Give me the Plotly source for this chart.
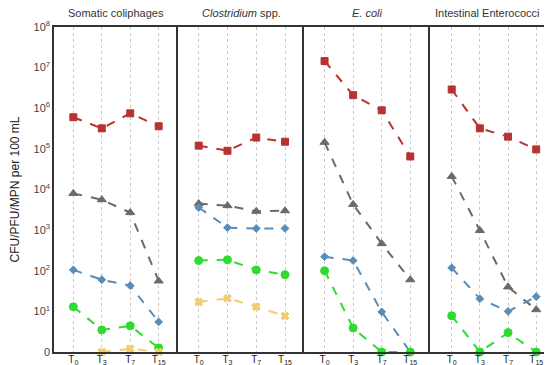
import plotly.graph_objects as go
from plotly.subplots import make_subplots

# ---------------- data ----------------
panels = ["Somatic coliphages", "<i>Clostridium</i> spp.", "<i>E. coli</i>", "Intestinal Enterococci"]
times = ["T<sub>0</sub>", "T<sub>3</sub>", "T<sub>7</sub>", "T<sub>15</sub>"]

# values per panel (CFU/PFU/MPN per 100 mL); 0 = not detected (drawn at the axis floor)
red_vals = [
    [6.0e5, 3.2e5, 7.5e5, 3.6e5],
    [1.2e5, 9.0e4, 1.9e5, 1.5e5],
    [1.45e7, 2.1e6, 8.9e5, 6.5e4],
    [2.9e6, 3.2e5, 2.0e5, 9.7e4],
]
gray_vals = [
    [8.0e3, 5.6e3, 2.7e3, 56],
    [4.5e3, 4.0e3, 2.9e3, 3.0e3],
    [1.45e5, 4.3e3, 465, 60],
    [2.1e4, 980, 40, 11],
]
blue_vals = [
    [105, 60, 43, 5.5],
    [3.6e3, 1.15e3, 1.1e3, 1.1e3],
    [222, 178, 9.7, 0],
    [118, 20.5, 10, 23],
]
green_vals = [
    [13, 3.5, 4.4, 1.26],
    [178, 186, 105, 80],
    [100, 3.9, 0, 0],
    [7.8, 0, 3, 0],
]
yellow_vals = [
    [None, 0, 1.2, 0],
    [17, 21, 13, 7.7],
    [None, None, None, None],
    [None, None, None, None],
]

ytick_vals = [1, 1e1, 1e2, 1e3, 1e4, 1e5, 1e6, 1e7, 1e8]
ytick_text = ["0"] + ["10<sup>%d</sup>" % k for k in range(1, 9)]

series = [
    (red_vals, "#B83232", "square", 7),
    (gray_vals, "#6A6A6A", "triangle-up", 8),
    (blue_vals, "#5A8CB8", "diamond", 6),
    (green_vals, "#2EDB2E", "circle", 8),
    (yellow_vals, "#F2CC72", "x", 7),
]


def floor0(v):
    # 0 (not detected) is drawn at the bottom of the log axis (labelled "0")
    return [None if x is None else (1 if x == 0 else x) for x in v]


fig = make_subplots(rows=1, cols=4, shared_yaxes=True, horizontal_spacing=0)

for p in range(4):
    for vals, color, sym, size in series:
        fig.add_trace(
            go.Scatter(
                x=list(range(4)),
                y=floor0(vals[p]),
                mode="lines+markers",
                line=dict(color=color, width=2, dash="dash"),
                marker=dict(color=color, symbol=sym, size=size,
                            line=dict(color=color, width=1)),
                cliponaxis=False,
                showlegend=False,
                connectgaps=False,
            ),
            row=1, col=p + 1,
        )

W = 498.0
bounds = [0, 124, 250, 376, 498]
ranges = [[-0.68, 3.68], [-0.72, 3.66], [-0.72, 3.69], [-0.77, 3.56]]
title_shift = [0, 0, 0, -4]
font = "Liberation Sans, Arial, sans-serif"

for p in range(4):
    xa = "xaxis" if p == 0 else "xaxis%d" % (p + 1)
    ya = "yaxis" if p == 0 else "yaxis%d" % (p + 1)
    fig.layout[xa].update(
        domain=[bounds[p] / W, bounds[p + 1] / W],
        range=ranges[p],
        tickvals=list(range(4)),
        ticktext=times,
        showgrid=True, gridcolor="#CACACA", griddash="dot", gridwidth=1,
        zeroline=False, automargin=False,
        showline=True, linecolor="#333333", linewidth=1.5, mirror=True,
        ticks="", tickfont=dict(family=font, size=10, color="#222222"),
        ticklabelstandoff=-3,
    )
    fig.layout[ya].update(
        type="log", range=[0, 8],
        tickvals=ytick_vals, ticktext=ytick_text,
        showgrid=False, zeroline=False, automargin=False,
        showline=True, linecolor="#333333", linewidth=1.5,
        ticks="", showticklabels=(p == 0),
        tickfont=dict(family=font, size=11, color="#444444"),
    )
    fig.add_annotation(
        text=panels[p], xref="paper", yref="paper",
        x=(bounds[p] + bounds[p + 1]) / 2 / W, y=1.0, yshift=14,
        xshift=title_shift[p],
        xanchor="center", showarrow=False, yanchor="middle",
        font=dict(family=font, size=11, color="#333333"),
    )

fig.layout.yaxis.update(title=dict(text="CFU/PFU/MPN per 100 mL",
                                   font=dict(family=font, size=12, color="#222222"),
                                   standoff=12))

# the page body adds an 8 px offset, so the figure is sized to fill the rest of the window
fig.update_layout(
    width=544, height=357,
    margin=dict(l=46, r=0, t=19, b=13),
    paper_bgcolor="white", plot_bgcolor="white",
    font=dict(family=font),
)

fig.write_html("out.html")
